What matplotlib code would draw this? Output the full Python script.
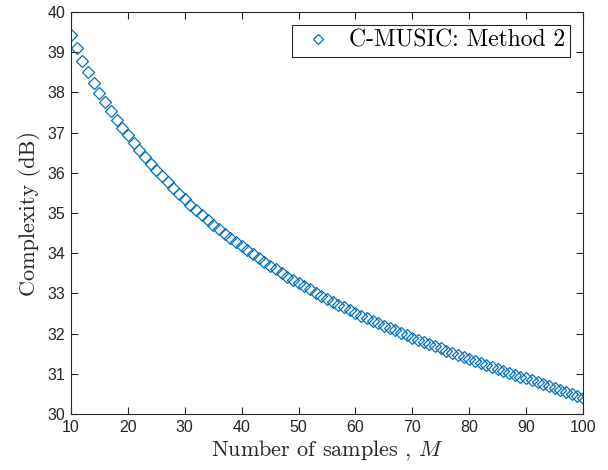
import numpy as np
import matplotlib
matplotlib.use('Agg')
import matplotlib.pyplot as plt

plt.rcParams['mathtext.fontset'] = 'cm'
plt.rcParams['font.family'] = ['Liberation Sans', 'DejaVu Sans']

# number of samples M and the complexity (dB) for C-MUSIC method 2
M = np.arange(10, 101)
complexity = [
    39.43, 39.10, 38.79, 38.51, 38.24, 37.99, 37.75, 37.53, 37.32, 37.12,
    36.93, 36.74, 36.56, 36.39, 36.23, 36.07, 35.92, 35.77, 35.62, 35.48,
    35.34, 35.21, 35.08, 34.95, 34.83, 34.71, 34.60, 34.49, 34.38, 34.27,
    34.17, 34.07, 33.97, 33.87, 33.78, 33.69, 33.60, 33.51, 33.42, 33.34,
    33.26, 33.18, 33.10, 33.02, 32.94, 32.87, 32.79, 32.72, 32.65, 32.58,
    32.51, 32.45, 32.38, 32.32, 32.26, 32.20, 32.14, 32.08, 32.02, 31.96,
    31.90, 31.85, 31.79, 31.74, 31.69, 31.63, 31.58, 31.53, 31.48, 31.43,
    31.38, 31.33, 31.28, 31.23, 31.18, 31.13, 31.08, 31.03, 30.98, 30.93,
    30.89, 30.84, 30.79, 30.75, 30.70, 30.65, 30.60, 30.56, 30.51, 30.46,
    30.41,
]
xticks = list(range(10, 101, 10))
yticks = list(range(30, 41))

fig = plt.figure(figsize=(6.08, 4.70), dpi=100)
ax = fig.add_axes([0.1168, 0.1191, 0.8421, 0.8554])

ax.plot(M, complexity, linestyle='none', marker='D', markersize=6.5,
        markerfacecolor='none', markeredgecolor='#0072BD', markeredgewidth=0.9,
        label='C-MUSIC: Method 2')

ax.set_xlim(10, 100)
ax.set_ylim(30, 40)
ax.set_xticks(xticks)
ax.set_yticks(yticks)

axcol = '#262626'
for s in ax.spines.values():
    s.set_color(axcol)
    s.set_linewidth(0.8)
ax.tick_params(direction='in', length=5, width=0.8, top=True, right=True,
               colors=axcol, labelsize=11.5, labelcolor=axcol, pad=4)

ax.set_xlabel('Number of samples , $M$', fontfamily='cmr10', fontsize=16,
              color=axcol, labelpad=3)
ax.set_ylabel('Complexity (dB)', fontfamily='cmr10', fontsize=16,
              color=axcol, labelpad=5)

leg = ax.legend(loc='upper right', prop={'family': 'cmr10', 'size': 17},
                fancybox=False, edgecolor=axcol, framealpha=1,
                borderaxespad=0.55, handletextpad=0.4, borderpad=0.2,
                handlelength=1.8, markerscale=0.85)
leg.get_frame().set_linewidth(0.8)

fig.savefig('out.png', dpi=100)
